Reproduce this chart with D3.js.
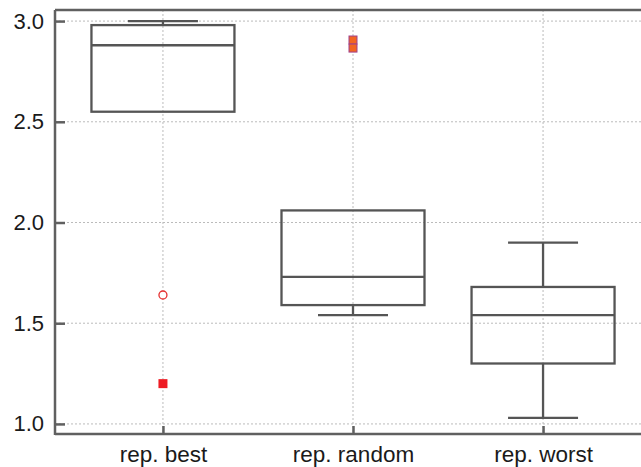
<!DOCTYPE html>
<html><head><meta charset="utf-8">
<script src="https://cdn.jsdelivr.net/npm/d3@7"></script>
<style>body{margin:0;background:#fff}</style>
</head><body>
<svg id="c" width="641" height="467"></svg>
<script>
const categories = ["rep. best", "rep. random", "rep. worst"];
const whiskerHigh = [3.00, 2.06, 1.90];
const q3 = [2.98, 2.06, 1.68];
const median = [2.88, 1.73, 1.54];
const q1 = [2.55, 1.59, 1.30];
const whiskerLow = [2.55, 1.54, 1.03];
const outlierCircles = [[0, 1.64]];
const outlierRed = [[0, 1.20]];
const outlierOrange = [[1, 2.906], [1, 2.866]];
const yTicks = [1.0, 1.5, 2.0, 2.5, 3.0];

const svg = d3.select("#c");
const L = 55, R = 651, T = 10, B = 434;
const x = d3.scalePoint().domain(categories).range([L, R]).padding(0.568);
const y = d3.scaleLinear().domain([0.95, 3.055]).range([B, T]);
const font = "Liberation Sans, Arial, Helvetica, sans-serif";

// grid
const g = svg.append("g");
g.selectAll(".hg").data(yTicks).join("line")
  .attr("x1", L).attr("x2", 641).attr("y1", d => y(d)).attr("y2", d => y(d))
  .attr("stroke", "#bbb").attr("stroke-width", 1).attr("stroke-dasharray", "2,2");
g.selectAll(".vg").data(categories).join("line")
  .attr("x1", d => x(d)).attr("x2", d => x(d)).attr("y1", T).attr("y2", B)
  .attr("stroke", "#bbb").attr("stroke-width", 1).attr("stroke-dasharray", "2,2");

// boxes
const bw = 71.5, cw = 35;
const stroke = "#555", sw = 2.3;
const boxes = svg.append("g");
categories.forEach((c, i) => {
  const cx = x(c);
  const b = boxes.append("g");
  if (whiskerHigh[i] > q3[i]) {
    b.append("line").attr("x1", cx).attr("x2", cx).attr("y1", y(q3[i])).attr("y2", y(whiskerHigh[i])).attr("stroke", stroke).attr("stroke-width", sw);
    b.append("line").attr("x1", cx - cw).attr("x2", cx + cw).attr("y1", y(whiskerHigh[i])).attr("y2", y(whiskerHigh[i])).attr("stroke", stroke).attr("stroke-width", sw);
  }
  if (whiskerLow[i] < q1[i]) {
    b.append("line").attr("x1", cx).attr("x2", cx).attr("y1", y(q1[i])).attr("y2", y(whiskerLow[i])).attr("stroke", stroke).attr("stroke-width", sw);
    b.append("line").attr("x1", cx - cw).attr("x2", cx + cw).attr("y1", y(whiskerLow[i])).attr("y2", y(whiskerLow[i])).attr("stroke", stroke).attr("stroke-width", sw);
  }
  b.append("rect").attr("x", cx - bw).attr("width", 2 * bw).attr("y", y(q3[i])).attr("height", y(q1[i]) - y(q3[i]))
    .attr("fill", "none").attr("stroke", stroke).attr("stroke-width", sw);
  b.append("line").attr("x1", cx - bw).attr("x2", cx + bw).attr("y1", y(median[i])).attr("y2", y(median[i])).attr("stroke", stroke).attr("stroke-width", sw);
});

// outliers
svg.selectAll(".oc").data(outlierCircles).join("circle")
  .attr("cx", d => x(categories[d[0]])).attr("cy", d => y(d[1])).attr("r", 4)
  .attr("fill", "#fff").attr("stroke", "#e53030").attr("stroke-width", 1.3);
svg.selectAll(".or").data(outlierRed).join("rect")
  .attr("x", d => x(categories[d[0]]) - 4.5).attr("y", d => y(d[1]) - 4.5).attr("width", 9).attr("height", 9)
  .attr("fill", "#ee1c24");
svg.selectAll(".oo").data(outlierOrange).join("rect")
  .attr("x", d => x(categories[d[0]]) - 4).attr("y", d => y(d[1]) - 4).attr("width", 8).attr("height", 8)
  .attr("fill", "#f26522").attr("stroke", "#a0408a").attr("stroke-width", 1);

// axes frame
const ax = "#606060";
svg.append("line").attr("x1", L).attr("x2", L).attr("y1", T).attr("y2", B + 1).attr("stroke", ax).attr("stroke-width", 2.5);
svg.append("line").attr("x1", L).attr("x2", 641).attr("y1", B).attr("y2", B).attr("stroke", ax).attr("stroke-width", 2.5);
svg.append("line").attr("x1", L).attr("x2", 641).attr("y1", T).attr("y2", T).attr("stroke", ax).attr("stroke-width", 2.5);

// y axis
const yAxis = d3.axisLeft(y).tickValues(yTicks).tickFormat(d3.format(".1f")).tickSizeInner(-10).tickSizeOuter(0).tickPadding(11);
const ya = svg.append("g").attr("transform", `translate(${L},0)`).call(yAxis);
ya.select(".domain").remove();
ya.selectAll(".tick line").attr("stroke", ax).attr("stroke-width", 2.5);
ya.selectAll(".tick text").attr("font-family", font).attr("font-size", 22).attr("fill", "#1a1a1a");

// x axis
const xAxis = d3.axisBottom(x).tickSizeInner(-8).tickSizeOuter(0).tickPadding(12);
const xa = svg.append("g").attr("transform", `translate(0,${B})`).call(xAxis);
xa.select(".domain").remove();
xa.selectAll(".tick line").attr("stroke", ax).attr("stroke-width", 2.5);
xa.selectAll(".tick text").attr("font-family", font).attr("font-size", 22.5).attr("fill", "#1a1a1a");
</script>
</body></html>
